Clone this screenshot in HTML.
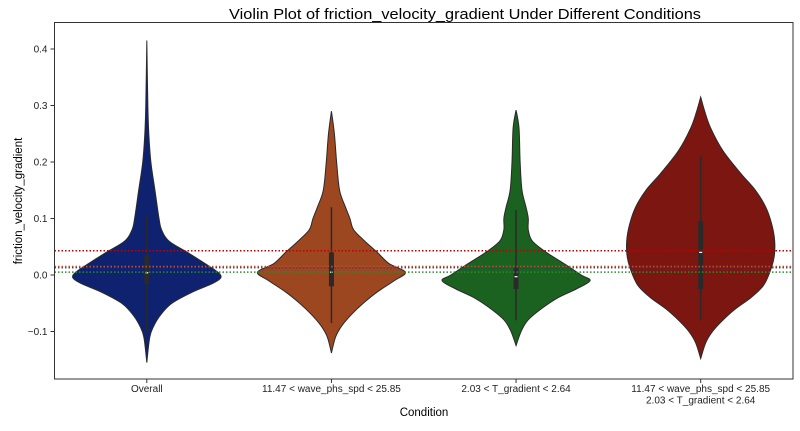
<!DOCTYPE html>
<html><head><meta charset="utf-8"><style>
body{margin:0;background:#fff;font-family:"Liberation Sans",sans-serif}
</style></head><body>
<svg id="chart" width="800" height="426" xmlns="http://www.w3.org/2000/svg" font-family="Liberation Sans, sans-serif"></svg>
<script>
const categories=["Overall","11.47 < wave_phs_spd < 25.85","2.03 < T_gradient < 2.64","11.47 < wave_phs_spd < 25.85|2.03 < T_gradient < 2.64"];
const colors=["#0e2270","#9c4720","#1b6220","#7b1611"];
const yTicks=[-0.1,0,0.1,0.2,0.3,0.4];
const yTickLabels=["\u22120.1","0.0","0.1","0.2","0.3","0.4"];
const refLines=[0.043,0.013,0.015,0.005];
const refColors=["#c00000","#1f3a9a","#c0502a","#2a8a2a"];
// profiles: [value, relative density]
const prof0=[[0.415,0],[0.3,0.014],[0.25,0.027],[0.2,0.055],[0.15,0.11],[0.1,0.165],[0.08,0.2],[0.06,0.3],[0.04,0.55],[0.02,0.79],[0.005,0.96],[-0.005,1],[-0.015,0.89],[-0.03,0.62],[-0.05,0.34],[-0.07,0.19],[-0.09,0.095],[-0.11,0.04],[-0.155,0]];
const prof1=[[0.29,0],[0.25,0.04],[0.2,0.07],[0.15,0.11],[0.12,0.19],[0.1,0.25],[0.08,0.3],[0.06,0.45],[0.04,0.62],[0.02,0.78],[0.005,1],[-0.01,0.85],[-0.03,0.62],[-0.05,0.43],[-0.07,0.27],[-0.09,0.14],[-0.11,0.055],[-0.138,0]];
const prof2=[[0.292,0],[0.26,0.04],[0.2,0.055],[0.15,0.08],[0.12,0.135],[0.1,0.165],[0.08,0.165],[0.06,0.22],[0.04,0.41],[0.02,0.65],[0,0.88],[-0.01,1],[-0.025,0.81],[-0.04,0.57],[-0.06,0.34],[-0.08,0.16],[-0.1,0.068],[-0.125,0]];
const prof3=[[0.315,0],[0.29,0.054],[0.26,0.135],[0.22,0.3],[0.18,0.54],[0.15,0.74],[0.12,0.88],[0.09,0.96],[0.06,1],[0.03,0.99],[0,0.92],[-0.02,0.84],[-0.04,0.68],[-0.06,0.47],[-0.08,0.3],[-0.1,0.16],[-0.12,0.068],[-0.148,0]];
const profiles=[prof0,prof1,prof2,prof3];
const q1=[-0.015,-0.02,-0.025,-0.025];
const q3=[0.035,0.04,0.015,0.095];
const medians=[0.004,0.005,-0.003,0.04];
const whiskLo=[-0.1,-0.085,-0.08,-0.08];
const whiskHi=[0.105,0.12,0.115,0.21];

const svg=document.getElementById('chart');
const NS="http://www.w3.org/2000/svg";
const L=54.5,R=793,T=22.5,B=379;
const y=v=>275-v*565;
const band=(R-L)/categories.length;
const x=i=>L+band*(i+0.5);
const maxHalf=74;
function mk(tag,attrs,parent){const e=document.createElementNS(NS,tag);for(const k in attrs)e.setAttribute(k,attrs[k]);(parent||svg).appendChild(e);return e;}
function smooth(pts){let d="M"+pts[0][0]+","+pts[0][1];for(let i=0;i<pts.length-1;i++){const p0=pts[i-1]||pts[i],p1=pts[i],p2=pts[i+1],p3=pts[i+2]||p2;const c1=[p1[0]+(p2[0]-p0[0])/6,p1[1]+(p2[1]-p0[1])/6],c2=[p2[0]-(p3[0]-p1[0])/6,p2[1]-(p3[1]-p1[1])/6];d+=`C${c1[0]},${c1[1]} ${c2[0]},${c2[1]} ${p2[0]},${p2[1]}`;}return d;}

let t=mk('text',{x:229,y:19,'text-anchor':'start','font-size':14.5,fill:'#000',textLength:472,lengthAdjust:'spacingAndGlyphs'});t.textContent="Violin Plot of friction_velocity_gradient Under Different Conditions";



const g=mk('g',{});


profiles.forEach((p,i)=>{
  const cx=x(i);
  const right=p.map(([v,d])=>[cx+d*maxHalf,y(v)]);
  const left=p.slice().reverse().map(([v,d])=>[cx-d*maxHalf,y(v)]);
  const path=mk('path',{d:smooth(right)+smooth(left).replace(/^M/,'L')+'Z',fill:colors[i],stroke:'#2a2a2a','stroke-width':1},g);
  
  
  const w=mk('line',{x1:cx,x2:cx,y1:y(whiskLo[i]),y2:y(whiskHi[i]),stroke:'#2a2a2a','stroke-width':1.5},g);
  
  
  const b=mk('rect',{x:cx-2.5,width:5,y:y(q3[i]),height:y(q1[i])-y(q3[i]),fill:'#2a2a2a'},g);
  
  
  const m=mk('line',{x1:cx-1.5,x2:cx+1.5,y1:y(medians[i]),y2:y(medians[i]),stroke:'#fff','stroke-width':1.2},g);
  
  
});
refLines.forEach((v,i)=>{
  const l=mk('line',{x1:L,x2:R,y1:y(v),y2:y(v),stroke:refColors[i],'stroke-width':1.5,'stroke-dasharray':'1.5,2'});
  
  
});
const frame=mk('rect',{x:L,y:T,width:R-L,height:B-T,fill:'none',stroke:'#333','stroke-width':1});


yTicks.forEach((v,i)=>{
  const tk=mk('line',{x1:L-4,x2:L,y1:y(v),y2:y(v),stroke:'#333'});
  
  
  const tl=mk('text',{x:L-7,y:y(v)+3.5,'text-anchor':'end','font-size':10,fill:'#222'});tl.textContent=yTickLabels[i];
  
  
});
categories.forEach((c,i)=>{
  const tk=mk('line',{x1:x(i),x2:x(i),y1:B,y2:B+4,stroke:'#333'});
  
  
  c.split('|').forEach((s,j)=>{
    const tl=mk('text',{x:x(i),y:B+13+j*11.5,'text-anchor':'middle','font-size':10,fill:'#222'});tl.textContent=s;
    
    
  });
});
t=mk('text',{x:424,y:416,'text-anchor':'middle','font-size':11.5,fill:'#000'});t.textContent="Condition";


t=mk('text',{x:0,y:0,transform:'translate(22,201) rotate(-90)','text-anchor':'middle','font-size':11.5,fill:'#000'});t.textContent="friction_velocity_gradient";


</script>
</body></html>
